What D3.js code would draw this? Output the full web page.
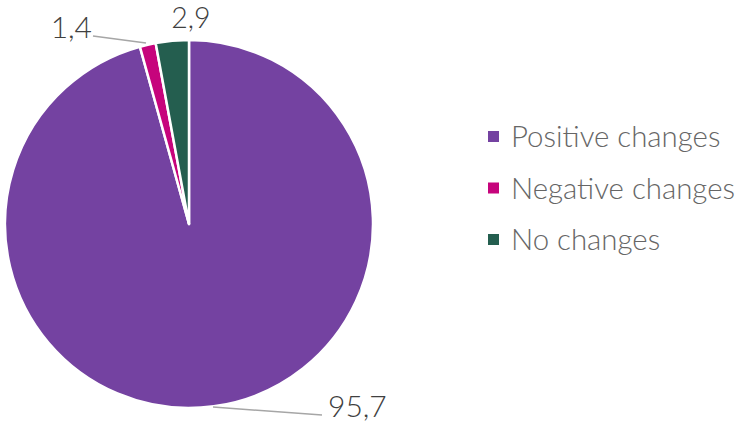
<!DOCTYPE html>
<html><head><meta charset="utf-8">
<script src="https://cdn.jsdelivr.net/npm/d3@7"></script>
<style>body{margin:0;background:#fff}svg{display:block}</style>
</head><body>
<script>
const categories = ["Positive changes", "Negative changes", "No changes"];
const values = [95.7, 1.4, 2.9];
const valueLabels = ["95,7", "1,4", "2,9"];
const colors = ["#7442A1", "#C6047C", "#245E4F"];

const W = 738, H = 424;
const svg = d3.select("body").append("svg").attr("width", W).attr("height", H);
const cx = 189, cy = 224, r = 184;
const pie = d3.pie().sort(null).value(d => d)(values);
const arc = d3.arc().innerRadius(0).outerRadius(r);
const g = svg.append("g").attr("transform", `translate(${cx},${cy})`);
g.selectAll("path").data(pie).join("path")
  .attr("d", arc).attr("fill", (d, i) => colors[i])
  .attr("stroke", "#fff").attr("stroke-width", 2.5).attr("stroke-linejoin", "round");

const labelPos = [
  {x: 328, y: 417, anchor: "start", line: [[213, 407], [322, 415]], size: 30},
  {x: 92, y: 38, anchor: "end", line: [[93, 36], [146, 43]], size: 30},
  {x: 191, y: 28, anchor: "middle", line: null, size: 28.5}
];
const font = "Lato, 'Open Sans', sans-serif";
labelPos.forEach((p, i) => {
  if (p.line) {
    svg.append("polyline").attr("points", p.line.map(q => q.join(",")).join(" "))
      .attr("fill", "none").attr("stroke", "#A6A6A6").attr("stroke-width", 1.5);
  }
  svg.append("text").attr("x", p.x).attr("y", p.y).attr("text-anchor", p.anchor)
    .attr("font-family", font).attr("font-weight", 300).attr("font-size", p.size)
    .attr("fill", "#404040").text(valueLabels[i]);
});

const leg = svg.append("g");
const ly = d3.scalePoint().domain(categories).range([137, 240]);
categories.forEach((c, i) => {
  leg.append("rect").attr("x", 488).attr("y", ly(c) - 6).attr("width", 11).attr("height", 11).attr("fill", colors[i]);
  leg.append("text").attr("x", 511).attr("y", ly(c) + 10).attr("font-family", font).attr("font-weight", 300)
    .attr("font-size", 29.4).attr("fill", "#666").text(c);
});
</script>
</body></html>
